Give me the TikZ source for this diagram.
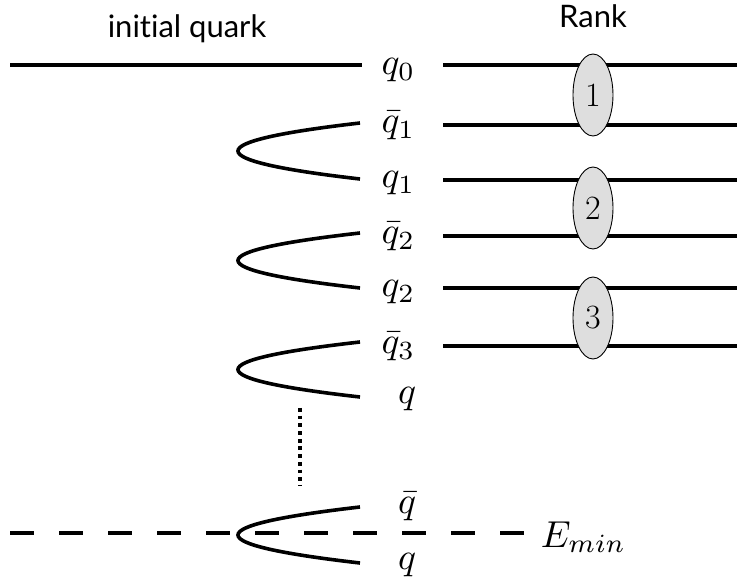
\RequirePackage{fix-cm}
\documentclass[tikz,border=0pt]{standalone}
\usepackage{fontspec}
\setsansfont[Ligatures={NoCommon,NoRequired,NoContextual}]{Lato}
\usetikzlibrary{shapes.geometric}
\begin{document}
\begin{tikzpicture}[x=1pt,y=-1pt,
  wire/.style={line width=3.6pt},
  lbl/.style={inner sep=0pt, anchor=base east, font=\normalsize, scale=3.75, transform shape},
  rankbox/.style={ellipse, draw, line width=0.9pt, fill=black!13, minimum width=40pt, minimum height=82pt, inner sep=0pt, font=\fontsize{34}{36}\selectfont},
  titletext/.style={inner sep=0pt, anchor=base, font=\sffamily\fontsize{31}{33}\selectfont}]
\useasboundingbox (0,0) rectangle (737,577);

% titles
\node[titletext] (init) at (187,38) {initial quark};
\node[titletext] (rank) at (593,28) {Rank};

% labels
\node[lbl] (q0)  at (416,75)  {$q_0$};
\node[lbl] (qb1) at (416,133) {$\bar q_1$};
\node[lbl] (q1)  at (416,188) {$q_1$};
\node[lbl] (qb2) at (416,244) {$\bar q_2$};
\node[lbl] (q2)  at (416,297) {$q_2$};
\node[lbl] (qb3) at (416,354) {$\bar q_3$};
\node[lbl] (q3)  at (417,404) {$q$};
\node[lbl] (qbn) at (417,513) {$\bar q$};
\node[lbl] (qn)  at (417,569) {$q$};
\node[lbl, anchor=base west] (emin) at (540,547) {$E_{min}$};

% initial quark line
\coordinate (i0) at (10,65);
\coordinate (i1) at (362,65);
\draw[wire] (i0) -- (i1);

% right lines
\foreach \n/\y in {a/65,b/125,c/180,d/236,e/288,f/346}{
  \coordinate (l\n) at (443,\y);
  \coordinate (r\n) at (737,\y);
  \draw[wire] (l\n) -- (r\n);
}

% rank ellipses
\node[rankbox] (rk1) at (593,95)  {1};
\node[rankbox] (rk2) at (593,208) {2};
\node[rankbox] (rk3) at (593,318) {3};

% string breaks (parabolic curves)
\coordinate (c1a) at (360,123); \coordinate (c1b) at (360,179);
\coordinate (c2a) at (360,233); \coordinate (c2b) at (360,288);
\coordinate (c3a) at (360,342); \coordinate (c3b) at (360,397);
\coordinate (c4a) at (360,507); \coordinate (c4b) at (360,563);
\draw[wire] (c1a) .. controls (197.3,141.7) and (197.3,160.3) .. (c1b);
\draw[wire] (c2a) .. controls (197.3,251.3) and (197.3,269.7) .. (c2b);
\draw[wire] (c3a) .. controls (197.3,360.3) and (197.3,378.7) .. (c3b);
\draw[wire] (c4a) .. controls (197.3,525.7) and (197.3,544.3) .. (c4b);

% dotted continuation
\coordinate (d0) at (300,408);
\coordinate (d1) at (300,486);
\draw[line width=3.6pt, dash pattern=on 3.8pt off 3.9pt] (d0) -- (d1);

% E_min dashed line
\coordinate (e0) at (10,533);
\coordinate (e1) at (524,533);
\draw[wire, dash pattern=on 24pt off 25pt] (e0) -- (e1);
\end{tikzpicture}
\end{document}
